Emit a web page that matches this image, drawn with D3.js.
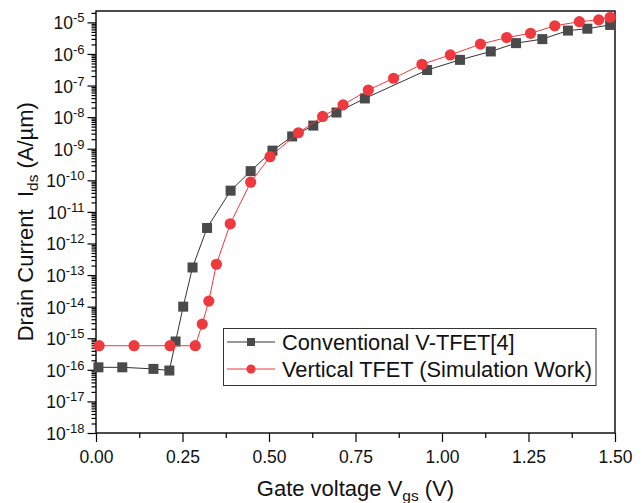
<!DOCTYPE html>
<html>
<head>
<meta charset="utf-8">
<script src="https://cdn.jsdelivr.net/npm/d3@7"></script>
<style>
  html, body { margin: 0; padding: 0; background: #fff; }
  svg { display: block; font-family: "Liberation Sans", Arial, sans-serif; }
</style>
</head>
<body>
<svg id="chart" width="642" height="503"></svg>
<script>
// Gate voltage (V) and drain current (A/µm) for each device
const convVgs = [0.007, 0.076, 0.166, 0.212, 0.230, 0.252, 0.279, 0.321, 0.389, 0.447,
                 0.510, 0.567, 0.628, 0.695, 0.777, 0.957, 1.052, 1.141, 1.214, 1.290,
                 1.364, 1.420, 1.486];
const convIds = [1.2e-16, 1.2e-16, 1.07e-16, 9.5e-17, 7.9e-16, 1.0e-14, 1.74e-13, 3.1e-12, 4.7e-11, 1.95e-10,
                 8.7e-10, 2.45e-9, 5.4e-9, 1.4e-8, 3.9e-8, 3.1e-7, 6.5e-7, 1.2e-6, 2.2e-6, 2.95e-6,
                 5.5e-6, 6.3e-6, 8.3e-6];

const simVgs = [0.009, 0.110, 0.214, 0.287, 0.307, 0.326, 0.348, 0.388, 0.447, 0.503,
                0.585, 0.655, 0.714, 0.787, 0.860, 0.942, 1.024, 1.111, 1.187, 1.256,
                1.326, 1.397, 1.453, 1.486];
const simIds = [5.8e-16, 5.8e-16, 5.8e-16, 5.8e-16, 2.8e-15, 1.5e-14, 2.2e-13, 4.2e-12, 8.7e-11, 5.6e-10,
                3.2e-9, 1.05e-8, 2.45e-8, 7.2e-8, 1.7e-7, 4.7e-7, 9.3e-7, 2.05e-6, 3.3e-6, 4.5e-6,
                7.8e-6, 1.05e-5, 1.2e-5, 1.45e-5];

const seriesNames = ["Conventional V-TFET[4]", "Vertical TFET (Simulation Work)"];

const xTicks = [0, 0.25, 0.5, 0.75, 1.0, 1.25, 1.5];
const xMinorTicks = [0.125, 0.375, 0.625, 0.875, 1.125, 1.375];
const yExponents = [-18, -17, -16, -15, -14, -13, -12, -11, -10, -9, -8, -7, -6, -5];

const svg = d3.select("#chart");
const plot = { left: 96, right: 615, top: 11, bottom: 433 };

const x = d3.scaleLinear().domain([0, 1.5]).range([plot.left, plot.right]);
const y = d3.scaleLog().domain([1e-18, Math.pow(10, -4.64)]).range([plot.bottom, plot.top]);

const grey = "#4a4a4a";
const red = "#ee3a3f";

// Y axis: major decades and log minor ticks, pointing outward
const yMinor = [];
for (let e = -18; e <= -5; e++) {
  for (let m = 2; m <= 9; m++) {
    const v = m * Math.pow(10, e);
    if (v <= y.domain()[1]) yMinor.push(v);
  }
}
const yAxis = svg.append("g").attr("transform", `translate(${plot.left},0)`);
yAxis.append("g")
  .call(d3.axisLeft(y).tickValues(yMinor).tickSize(4.5).tickFormat(""))
  .call(g => g.select(".domain").remove());
yAxis.append("g")
  .call(d3.axisLeft(y).tickValues(yExponents.map(e => Math.pow(10, e))).tickSize(8.5).tickFormat(""))
  .call(g => g.select(".domain").remove());
yAxis.selectAll("line").attr("stroke", "#000").attr("stroke-width", 1.2);

// Decade labels as 10 with a superscript exponent
const yLab = svg.append("g");
yExponents.forEach(e => {
  const t = yLab.append("text")
    .attr("x", 84.5).attr("y", y(Math.pow(10, e)) + 7)
    .attr("text-anchor", "end")
    .attr("font-size", 17.5).attr("fill", "#111");
  t.append("tspan").text("10");
  t.append("tspan").attr("dy", -7).attr("font-size", 13).text("-" + Math.abs(e));
});

// X axis: major and minor ticks
const xAxis = svg.append("g").attr("transform", `translate(0,${plot.bottom})`);
xAxis.append("g")
  .call(d3.axisBottom(x).tickValues(xMinorTicks).tickSize(5).tickFormat(""))
  .call(g => g.select(".domain").remove());
xAxis.append("g")
  .call(d3.axisBottom(x).tickValues(xTicks).tickSize(9).tickFormat(d3.format(".2f")))
  .call(g => g.select(".domain").remove())
  .call(g => g.selectAll("text")
    .attr("font-size", 17.5).attr("font-family", "Liberation Sans, Arial, sans-serif")
    .attr("fill", "#111").attr("dy", 0).attr("y", 30));
xAxis.selectAll("line").attr("stroke", "#000").attr("stroke-width", 1.2);

// Plot frame
svg.append("rect")
  .attr("x", plot.left).attr("y", plot.top)
  .attr("width", plot.right - plot.left).attr("height", plot.bottom - plot.top)
  .attr("fill", "none").attr("stroke", "#000").attr("stroke-width", 1.4);

// Series
const line = d3.line().x(d => x(d[0])).y(d => y(d[1]));
const conv = convVgs.map((v, i) => [v, convIds[i]]);
const sim = simVgs.map((v, i) => [v, simIds[i]]);

svg.append("path").datum(conv).attr("d", line)
  .attr("fill", "none").attr("stroke", "#333").attr("stroke-width", 1);
svg.append("g").selectAll("rect").data(conv).join("rect")
  .attr("x", d => x(d[0]) - 5).attr("y", d => y(d[1]) - 5)
  .attr("width", 10).attr("height", 10).attr("fill", grey);

svg.append("path").datum(sim).attr("d", line)
  .attr("fill", "none").attr("stroke", red).attr("stroke-width", 1);
svg.append("g").selectAll("circle").data(sim).join("circle")
  .attr("cx", d => x(d[0])).attr("cy", d => y(d[1])).attr("r", 5.6)
  .attr("fill", red);

// Legend
const lg = svg.append("g");
lg.append("rect").attr("x", 223.5).attr("y", 328.5).attr("width", 372.5).attr("height", 57)
  .attr("fill", "#fff").attr("stroke", "#333").attr("stroke-width", 1);
const rows = [
  { name: seriesNames[0], color: "#333", y: 342, shape: "square" },
  { name: seriesNames[1], color: red, y: 369, shape: "circle" }
];
rows.forEach(r => {
  lg.append("line").attr("x1", 227).attr("x2", 275).attr("y1", r.y).attr("y2", r.y)
    .attr("stroke", r.color).attr("stroke-width", 1);
  if (r.shape === "square") {
    lg.append("rect").attr("x", 251 - 4).attr("y", r.y - 4).attr("width", 8).attr("height", 8).attr("fill", grey);
  } else {
    lg.append("circle").attr("cx", 251).attr("cy", r.y).attr("r", 4.6).attr("fill", red);
  }
  lg.append("text").attr("x", 282).attr("y", r.y + 7.5)
    .attr("font-size", 21.8).attr("fill", "#111").text(r.name);
});

// Axis titles
const xt = svg.append("text").attr("x", 355.5).attr("y", 496)
  .attr("text-anchor", "middle").attr("font-size", 22).attr("fill", "#111");
xt.append("tspan").text("Gate voltage V");
xt.append("tspan").attr("dy", 5).attr("font-size", 15.5).text("gs");
xt.append("tspan").attr("dy", -5).text(" (V)");

const yt = svg.append("text")
  .attr("transform", `translate(33,221.7) rotate(-90)`)
  .attr("text-anchor", "middle").attr("font-size", 22).attr("fill", "#111");
yt.append("tspan").text("Drain Current\u00a0\u00a0I");
yt.append("tspan").attr("dy", 5).attr("font-size", 15.5).text("ds");
yt.append("tspan").attr("dy", -5).text(" (A/\u00b5m)");
</script>
</body>
</html>
